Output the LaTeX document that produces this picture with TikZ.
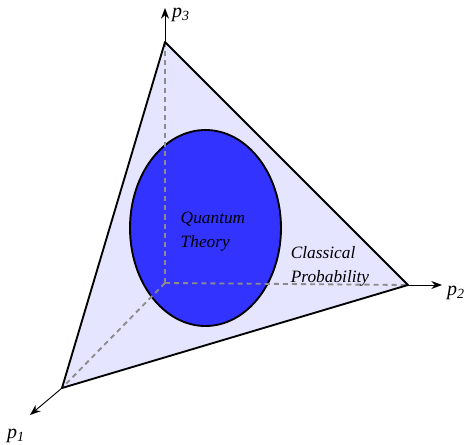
\documentclass[tikz,border=0pt]{standalone}
\usepackage{fontspec}
\setmainfont{Liberation Serif}
\usetikzlibrary{arrows.meta}
\begin{document}
\begin{tikzpicture}[x=0.75pt,y=0.75pt,
    axis/.style={-{Stealth[length=8pt,width=6pt]},line width=0.7pt},
    guide/.style={gray!90,line width=1.4pt,dash pattern=on 3.8pt off 3pt},
    lbl/.style={font=\fontsize{13}{18}\selectfont\itshape,align=left,inner sep=0pt},
    axlbl/.style={font=\fontsize{15}{18}\selectfont\itshape,inner sep=0pt}]
    \useasboundingbox (0,0) rectangle (465,444);
    % simplex corners and origin
    \coordinate (O) at (165,161);
    \coordinate (A) at (62,56);
    \coordinate (B) at (408,159);
    \coordinate (C) at (165,402);
    \fill[blue!10] (A) -- (B) -- (C) -- cycle;
    \filldraw[fill=blue!80,draw=black,line width=1.4pt] (205.5,216) ellipse (75.5 and 98);
    \foreach \v in {A,B,C} {
        \draw[guide] (O) -- (\v);
    }
    \draw[line width=1.4pt,line join=round] (A) -- (B) -- (C) -- cycle;
    % axes
    \coordinate (x1) at (30,29);
    \coordinate (x2) at (442,159);
    \coordinate (x3) at (165,436);
    \draw[axis] (A) -- (x1);
    \draw[axis] (B) -- (x2);
    \draw[axis] (C) -- (x3);
    \node[axlbl] (l1) at (16,8) {p\textsubscript{1}};
    \node[axlbl] (l2) at (456,151) {p\textsubscript{2}};
    \node[axlbl] (l3) at (181,429) {p\textsubscript{3}};
    \node[lbl] (qt) at (213,212) {Quantum\\Theory};
    \node[lbl] (cp) at (330,178) {Classical\\Probability};
\end{tikzpicture}
\end{document}
